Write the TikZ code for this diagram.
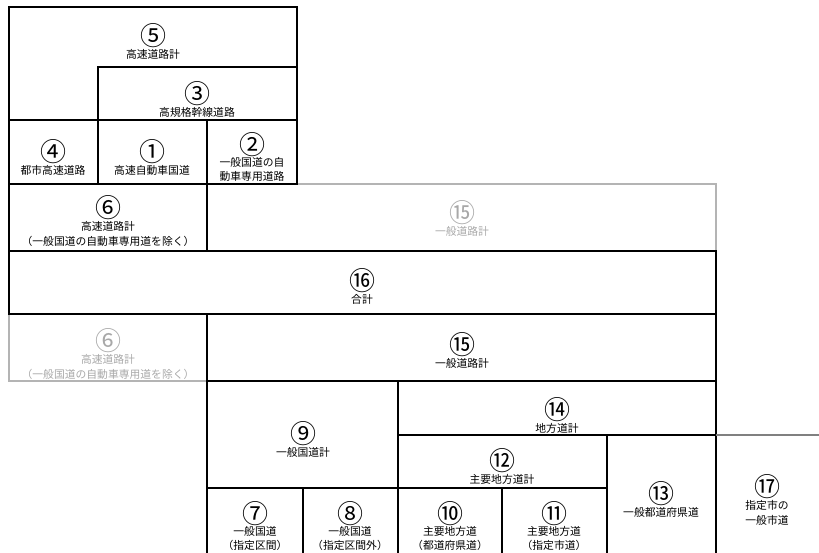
\documentclass[tikz,border=0pt]{standalone}
\usepackage{fontspec}
\newfontfamily\cjk{Noto Sans CJK JP}
\definecolor{lgray}{HTML}{B4B4B4}
\definecolor{tgray}{HTML}{A8A8A8}
\definecolor{mgray}{HTML}{808080}
\newcommand{\cn}[1]{{\fontsize{26}{26}\selectfont #1}}
\begin{document}
\begin{tikzpicture}[x=1pt,y=-1pt,
  blk/.style={draw=black,line width=1.3pt},
  gry/.style={draw=lgray,line width=1.3pt},
  lbl/.style={align=center,inner sep=0pt,font=\cjk\fontsize{10.8}{15}\selectfont},
  lbl2/.style={lbl,font=\cjk\fontsize{10.8}{14}\selectfont},
  glbl/.style={lbl,text=tgray}]
\useasboundingbox (0,0) rectangle (819,553);
% gray boxes (behind)
\draw[gry] (207,184) rectangle (716,251);
\draw[gry] (9,314) rectangle (207,381);
% top block
\draw[blk] (9,7) rectangle (297,120);
\draw[blk] (98,67) rectangle (297,120);
\draw[blk] (9,120) rectangle (98,184);
\draw[blk] (98,120) rectangle (207,184);
\draw[blk] (207,120) rectangle (297,184);
\draw[blk] (9,184) rectangle (207,251);
\draw[blk] (9,251) rectangle (716,314);
\draw[blk] (207,314) rectangle (716,381);
\draw[blk] (207,381) rectangle (398,488);
\draw[blk] (398,381) rectangle (716,435);
\draw[blk] (398,435) rectangle (607,488);
\draw[blk] (207,488) -- (207,560);
\draw[blk] (303,488) -- (303,560);
\draw[blk] (398,488) -- (398,560);
\draw[blk] (502,488) -- (502,560);
\draw[blk] (607,435) -- (607,560);
\draw[blk] (716,435) -- (716,560);
\draw[draw=mgray,line width=1.3pt] (716,435) -- (825,435);
% labels
\node[lbl] (n5) at (153,41) {\cn{⑤}\\[-2pt]高速道路計};
\node[lbl] (n3) at (197,99) {\cn{③}\\[-2pt]高規格幹線道路};
\node[lbl] (n4) at (53,157) {\cn{④}\\[-2pt]都市高速道路};
\node[lbl] (n1) at (152,157) {\cn{①}\\[-2pt]高速自動車国道};
\node[lbl2] (n2) at (252,157) {\cn{②}\\[-2pt]一般国道の自\\動車専用道路};
\node[lbl] (n6) at (108,221) {\cn{⑥}\\[-2pt]高速道路計\\（一般国道の自動車専用道を除く）};
\node[glbl] (n15g) at (462,218) {\cn{⑮}\\[-2pt]一般道路計};
\node[lbl] (n16) at (362,286) {\cn{⑯}\\[-2pt]合計};
\node[glbl] (n6g) at (108,354) {\cn{⑥}\\[-2pt]高速道路計\\（一般国道の自動車専用道を除く）};
\node[lbl] (n15) at (462,350) {\cn{⑮}\\[-2pt]一般道路計};
\node[lbl] (n9) at (303,439) {\cn{⑨}\\[-2pt]一般国道計};
\node[lbl] (n14) at (557,415) {\cn{⑭}\\[-2pt]地方道計};
\node[lbl] (n12) at (502,466) {\cn{⑫}\\[-2pt]主要地方道計};
\node[lbl2] (n7) at (255,526) {\cn{⑦}\\[-2pt]一般国道\\（指定区間）};
\node[lbl2] (n8) at (350,526) {\cn{⑧}\\[-2pt]一般国道\\（指定区間外）};
\node[lbl2] (n10) at (450,526) {\cn{⑩}\\[-2pt]主要地方道\\（都道府県道）};
\node[lbl2] (n11) at (554,526) {\cn{⑪}\\[-2pt]主要地方道\\（指定市道）};
\node[lbl] (n13) at (661,499) {\cn{⑬}\\[-2pt]一般都道府県道};
\node[lbl] (n17) at (767,500) {\cn{⑰}\\[-2pt]指定市の\\一般市道};
\end{tikzpicture}
\end{document}
